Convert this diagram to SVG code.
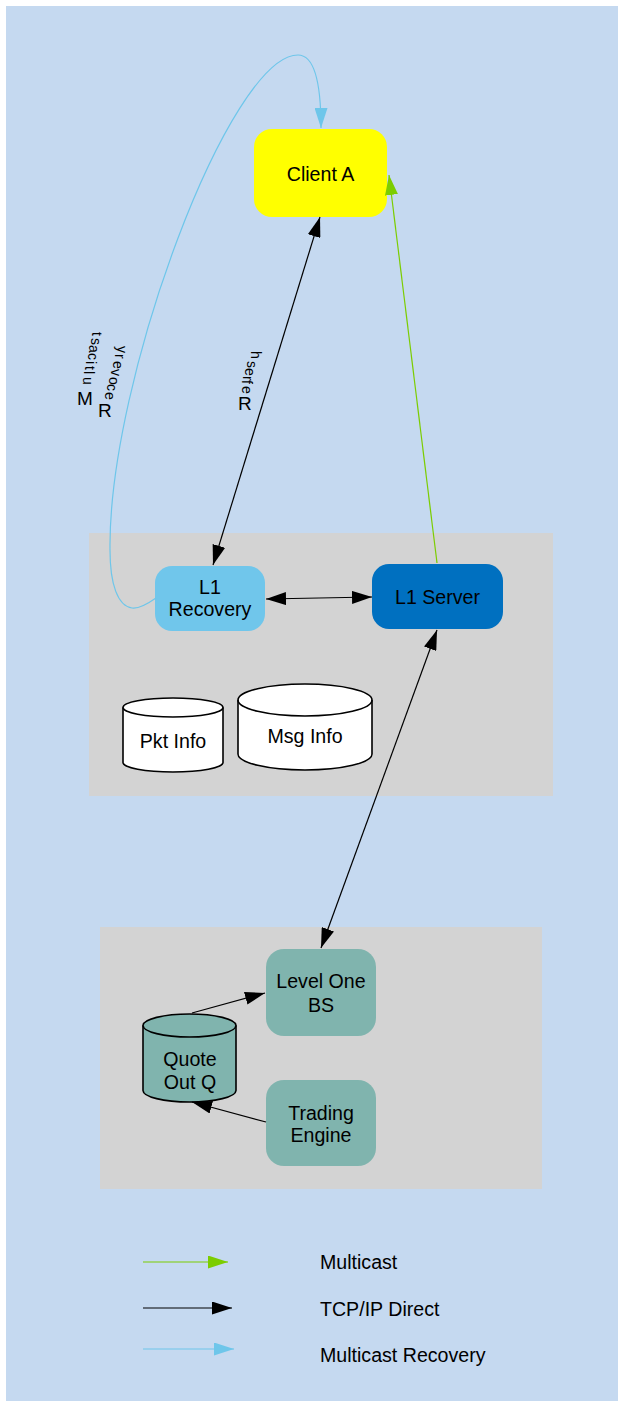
<svg xmlns="http://www.w3.org/2000/svg" width="618" height="1401" viewBox="0 0 618 1401">
<style>
text{font-family:"Liberation Sans",Arial,sans-serif;font-size:19.6px;fill:#000}
.c{text-anchor:middle}
.e{fill:none;stroke-width:1.2}
.blk{stroke:#000}
.grn{stroke:#7ccd00}
.sky{stroke:#6ec6ea}
.cyl{stroke:#000;stroke-width:1.6}
.rot{font-size:14px}
</style>
<defs>
<marker id="ab" viewBox="0 0 20 13" refX="20" refY="6.5" markerWidth="20" markerHeight="13" markerUnits="userSpaceOnUse" orient="auto-start-reverse"><path d="M0,0 L20,6.5 L0,13 z" fill="#000"/></marker>
<marker id="ag" viewBox="0 0 20 13" refX="20" refY="6.5" markerWidth="20" markerHeight="13" markerUnits="userSpaceOnUse" orient="auto"><path d="M0,0 L20,6.5 L0,13 z" fill="#7ccd00"/></marker>
<marker id="as" viewBox="0 0 20 13" refX="20" refY="6.5" markerWidth="20" markerHeight="13" markerUnits="userSpaceOnUse" orient="auto"><path d="M0,0 L20,6.5 L0,13 z" fill="#6ec6ea"/></marker>
</defs>
<rect x="0" y="0" width="618" height="1401" fill="#fff"/>
<rect x="6" y="6" width="612" height="1395" fill="#c5d9f0"/>
<g id="cluster1"><rect x="89" y="533" width="464" height="263" fill="#d3d3d3"/></g>
<g id="cluster2"><rect x="100" y="927" width="442" height="262" fill="#d3d3d3"/></g>

<g id="clientA"><rect x="254" y="129" width="133" height="88" rx="18" fill="#ffff00"/><text class="c" x="320.5" y="181">Client A</text></g>
<g id="l1recovery"><rect x="155" y="566" width="110" height="65" rx="17" fill="#70c6eb"/><text class="c" x="210" y="594">L1</text><text class="c" x="210" y="616">Recovery</text></g>
<g id="l1server"><rect x="372" y="564" width="131" height="65" rx="17" fill="#0070c0"/><text class="c" x="437.5" y="604">L1 Server</text></g>
<g id="pktinfo"><path class="cyl" d="M123,707.5 A50,9.5 0 0 1 223,707.5 L223,762.5 A50,9.5 0 0 1 123,762.5 Z" fill="#fff"/><path class="cyl" fill="none" d="M123,707.5 A50,9.5 0 0 0 223,707.5"/><text class="c" x="173" y="748">Pkt Info</text></g>
<g id="msginfo"><path class="cyl" d="M238,700 A67,16 0 0 1 372,700 L372,754 A67,16 0 0 1 238,754 Z" fill="#fff"/><path class="cyl" fill="none" d="M238,700 A67,16 0 0 0 372,700"/><text class="c" x="305" y="743">Msg Info</text></g>
<g id="levelonebs"><rect x="266" y="949" width="110" height="87" rx="18" fill="#80b4ae"/><text class="c" x="321" y="988">Level One</text><text class="c" x="321" y="1012">BS</text></g>
<g id="tradingengine"><rect x="266" y="1080" width="110" height="86" rx="18" fill="#80b4ae"/><text class="c" x="321" y="1120">Trading</text><text class="c" x="321" y="1142">Engine</text></g>
<g id="quoteoutq"><path class="cyl" d="M143,1025.5 A46.5,11.5 0 0 1 236,1025.5 L236,1090.5 A46.5,11.5 0 0 1 143,1090.5 Z" fill="#80b4ae"/><path class="cyl" fill="none" d="M143,1025.5 A46.5,11.5 0 0 0 236,1025.5"/><text class="c" x="190" y="1066">Quote</text><text class="c" x="190" y="1089">Out Q</text></g>

<g id="connectors">
<path class="e blk" d="M320,217 L213,565" marker-start="url(#ab)" marker-end="url(#ab)"/>
<path class="e grn" d="M437,563 L389,175" marker-end="url(#ag)"/>
<path class="e sky" d="M156,598 C146,605 138,609 132,608 C118,606 110,585 110,550 C108,380 230,55 298,55 C316,55 321,90 321,128" marker-end="url(#as)"/>
<path class="e blk" d="M266,599 L372,597" marker-start="url(#ab)" marker-end="url(#ab)"/>
<path class="e blk" d="M437,630 L321,948" marker-start="url(#ab)" marker-end="url(#ab)"/>
<path class="e blk" d="M192,1013 L265,993" marker-end="url(#ab)"/>
<path class="e blk" d="M266,1122 L192,1102" marker-end="url(#ab)"/>
<text><tspan x="77" y="405" font-size="19">M</tspan><tspan class="rot" rotate="90" x="82.5 83.5 84.5 85.5 87.5 88.5 90.5 91.5" y="377 371 366 361 353 345 338 332">ulticast</tspan></text>
<text><tspan x="98" y="417" font-size="19">R</tspan><tspan class="rot" rotate="90" x="105 106.5 108.5 110.5 112.5 114.5 116.5" y="392 384 377 369 361 354 346">ecovery</tspan></text>
<text><tspan x="238" y="410" font-size="19">R</tspan><tspan class="rot" rotate="90" x="242 241.5 242.5 244.5 246.5 250.5" y="386 380 376 368 361 351">efresh</tspan></text>
</g>

<g id="legend">
<path class="e grn" d="M143,1262 L228,1262" marker-end="url(#ag)"/>
<path class="e blk" d="M143,1308 L232,1308" marker-end="url(#ab)"/>
<path class="e sky" d="M143,1349 L234,1349" marker-end="url(#as)"/>
<text x="320" y="1269">Multicast</text>
<text x="320" y="1316">TCP/IP Direct</text>
<text x="320" y="1362">Multicast Recovery</text>
</g>
</svg>
